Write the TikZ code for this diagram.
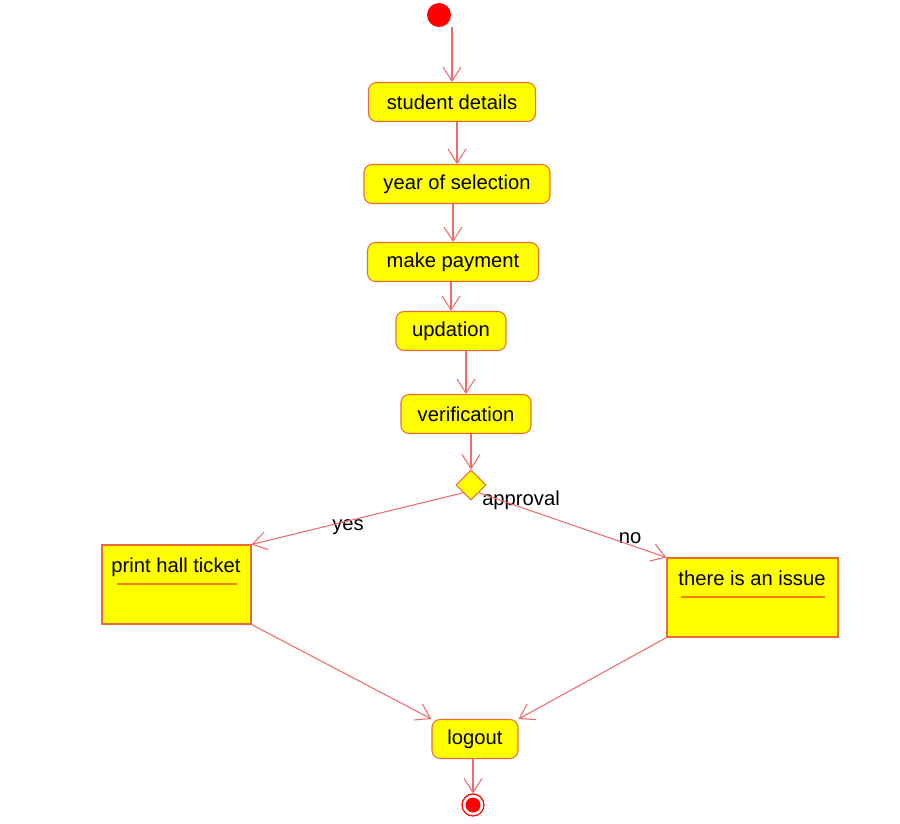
\documentclass[tikz,border=0pt]{standalone}
\usepackage{fontspec}
\setmainfont{Liberation Sans}
\usetikzlibrary{arrows.meta,shapes.geometric}
\definecolor{flowred}{HTML}{F26B6B}
\definecolor{boxfill}{HTML}{FFFF00}
\definecolor{boxedge}{HTML}{EE6A3A}
\definecolor{ruleorange}{HTML}{F08020}
\definecolor{dotred}{HTML}{FF0000}
\begin{document}
\begin{tikzpicture}[x=0.02cm,y=-0.02cm,
  font=\fontsize{11.5}{13}\selectfont,
  activity/.style={draw=boxedge, fill=boxfill, rounded corners=0.16cm,
    inner sep=0pt, minimum height=0.78cm, line width=0.6pt},
  panel/.style={draw=boxedge, fill=boxfill, inner sep=0pt, line width=0.6pt,
    minimum height=1.58cm},
  flow/.style={draw=flowred, line width=0.6pt,
    -{Straight Barb[length=0.28cm,width=0.36cm]}},
  underline/.style={draw=ruleorange, line width=0.8pt},
  tag/.style={inner sep=1pt}]
\path[fill=white] (0,0) rectangle (900,823);

% activities
\node[circle, fill=dotred, minimum size=0.48cm, inner sep=0pt] (start) at (439,15) {};
\node[activity, minimum width=3.34cm] (sd)  at (452,102) {student details};
\node[activity, minimum width=3.72cm] (ys)  at (457,184) {year of selection};
\node[activity, minimum width=3.42cm] (mp)  at (453,262) {make payment};
\node[activity, minimum width=2.20cm] (up)  at (451,331) {updation};
\node[activity, minimum width=2.60cm] (ver) at (466,414) {verification};
\node[diamond, draw=boxedge, fill=boxfill, line width=0.6pt,
      minimum size=0.6cm, inner sep=0pt] (dec) at (471,485) {};

% outcome panels
\node[panel, minimum width=2.98cm] (ph) at (176.5,584.5) {};
\node[anchor=base] (phtxt) at (176,572) {print hall ticket};
\draw[underline] (117,584) -- (237,584);
\node[panel, minimum width=3.42cm] (iss) at (752.5,597.5) {};
\node[anchor=base] (isstxt) at (752,585) {there is an issue};
\draw[underline] (681,597) -- (825,597);

\node[activity, minimum width=1.72cm] (lo) at (475,739) {logout};
\node[circle, draw=dotred, line width=0.7pt, fill=white,
      minimum size=0.44cm, inner sep=0pt] (end) at (473,805) {};
\node[circle, fill=dotred, minimum size=0.3cm, inner sep=0pt] (endc) at (473,805) {};

% labels
\node[tag] (appr) at (521,500) {approval};
\node[tag] (yes)  at (348,527) {yes};
\node[tag] (no)   at (630,538) {no};

% flow
\draw[flow] (sd.north |- start.south) -- (sd.north);
\draw[flow] (sd.south -| ys.north) -- (ys.north);
\draw[flow] (ys.south -| mp.north) -- (mp.north);
\draw[flow] (mp.south -| up.north) -- (up.north);
\draw[flow] (up.south -| ver.north) -- (ver.north);
\draw[flow] (ver.south -| dec.north) -- (dec.north);
\draw[flow] (dec.south west) -- (ph.north east);
\draw[flow] (dec.south east) -- (iss.north west);
\draw[flow] (ph.south east) -- (lo.north west);
\draw[flow] (iss.south west) -- (lo.north east);
\draw[flow] (lo.south -| end.north) -- (end.north);
\end{tikzpicture}
\end{document}
